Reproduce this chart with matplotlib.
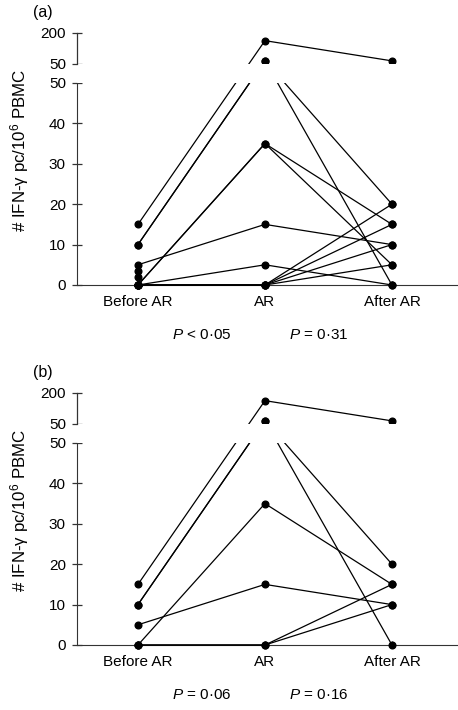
import numpy as np
import matplotlib
matplotlib.use('Agg')
import matplotlib.pyplot as plt
from matplotlib.ticker import FixedLocator, FixedFormatter

plt.rcParams['font.family'] = ['Liberation Sans', 'DejaVu Sans']
plt.rcParams['mathtext.fontset'] = 'custom'
plt.rcParams['mathtext.rm'] = 'Liberation Sans'
plt.rcParams['mathtext.it'] = 'Liberation Sans:italic'
plt.rcParams['font.size'] = 11

categories = ['Before AR', 'AR', 'After AR']

# panel (a): one entry per patient, before / during / after AR
before_a = [15, 10, 10, 5, 0, 0, 0, 0, 0, 0, 0, 3.5, 2]
ar_a = [163, 66, 66, 15, 35, 35, 5, 0, 0, 0, 0, np.nan, np.nan]
after_a = [65, 0, 20, 10, 15, 5, 0, 20, 15, 10, 5, np.nan, np.nan]

# panel (b)
before_b = [15, 10, 10, 5, 0, 0, 0]
ar_b = [163, 66, 66, 15, 35, 0, 0]
after_b = [65, 0, 20, 10, 15, 15, 10]

p_a = ['$P$ < 0·05', '$P$ = 0·31']
p_b = ['$P$ = 0·06', '$P$ = 0·16']

yticks = [0, 10, 20, 30, 40, 50, 50.001, 200]
ylabels = ['0', '10', '20', '30', '40', '50', '50', '200']

# broken axis: 0-50 linear, then a gap, then 50-200 compressed
GAP = 4.7
K = 0.0511


def fwd(v):
    v = np.asarray(v, dtype=float)
    return np.where(v <= 50, v, 50 + GAP + (v - 50) * K)


def inv(u):
    u = np.asarray(u, dtype=float)
    return np.where(u <= 50, u,
                    np.where(u < 50 + GAP, 50, 50 + (u - 50 - GAP) / K))


spc = '#333333'


def panel(ax, before, ar, after, ptexts):
    ax.set_yscale('function', functions=(fwd, inv))
    x = np.arange(len(categories))
    for b, a, f in zip(before, ar, after):
        ax.plot(x, [b, a, f], color='black', lw=0.9, marker='o', ms=4.8,
                clip_on=False, zorder=3)
    # white band hides the lines inside the break
    ax.axhspan(50, 50.001, color='white', zorder=4, lw=0)

    for s in ['top', 'right']:
        ax.spines[s].set_visible(False)
    ax.spines['left'].set_bounds(0, 50)
    ax.spines['left'].set_color(spc)
    ax.spines['bottom'].set_color(spc)
    ax.spines['left'].set_zorder(5)
    ax.plot([0, 0], [50.001, 200], transform=ax.get_yaxis_transform(),
            color=spc, lw=0.9, clip_on=False, zorder=5)

    ax.yaxis.set_major_locator(FixedLocator(yticks))
    ax.yaxis.set_major_formatter(FixedFormatter(ylabels))
    ax.tick_params(axis='y', direction='inout', length=7, width=0.9,
                   pad=4.5, color=spc)
    ax.set_xticks(x, categories)
    ax.tick_params(axis='x', direction='in', length=3, width=0.9,
                   pad=7, color=spc)
    ax.set_xlim(-0.48, 2.52)
    ax.set_ylim(0, 200)

    for xp, t in zip([0.5, 1.42], ptexts):
        ax.text(xp, -0.198, t, transform=ax.get_xaxis_transform(),
                ha='center', va='center')


fig = plt.figure(figsize=(4.58, 7.10), dpi=100)
ax_a = fig.add_axes([77 / 458, 1 - 285 / 710, 1 - 77 / 458, 252 / 710])
ax_b = fig.add_axes([77 / 458, 1 - 645 / 710, 1 - 77 / 458, 252 / 710])

panel(ax_a, before_a, ar_a, after_a, p_a)
panel(ax_b, before_b, ar_b, after_b, p_b)

ylab = '# IFN-γ pc/10$^6$ PBMC'
for tag, off in [('(a)', 0), ('(b)', 360)]:
    fig.text(43 / 458, 1 - (12 + off) / 710, tag, ha='center', va='center',
             fontsize=11.5)
    fig.text(20 / 458, 1 - (150 + off) / 710, ylab, rotation=90,
             ha='center', va='center', fontsize=12.2)

fig.savefig('out.png', dpi=100)
